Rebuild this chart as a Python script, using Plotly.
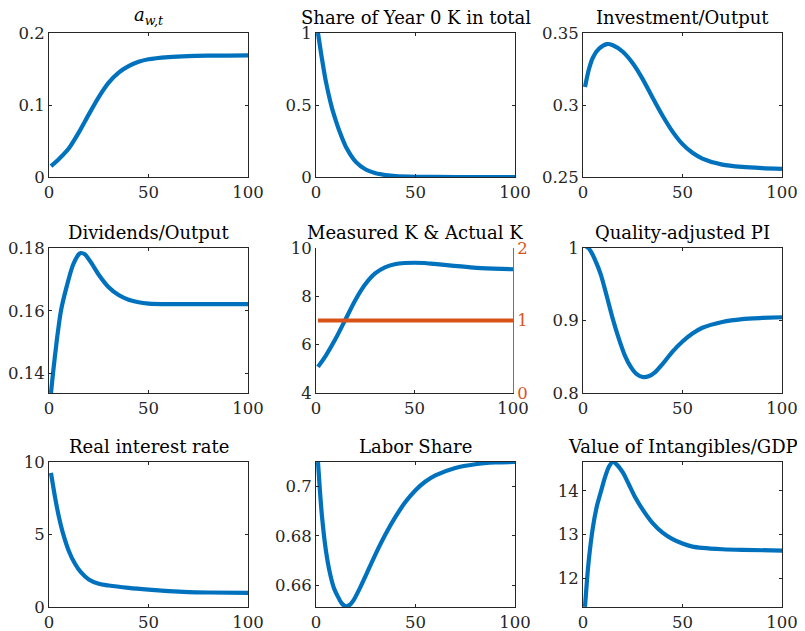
import plotly.graph_objects as go

# ---------------- data ----------------
aw_x = [1, 5, 10, 15, 20, 25, 30, 35, 40, 45, 50, 60, 70, 80, 90, 100]
aw_y = [0.015, 0.025, 0.040, 0.062, 0.087, 0.111, 0.131, 0.145, 0.154, 0.160, 0.1635, 0.1665, 0.168, 0.1685, 0.1687, 0.1688]

share_x = [1, 3, 5, 8, 10, 12, 15, 20, 25, 30, 35, 40, 50, 60, 80, 100]
share_y = [1.0, 0.82, 0.66, 0.48, 0.39, 0.31, 0.21, 0.105, 0.052, 0.026, 0.013, 0.006, 0.0015, 0.0004, 0.0, 0.0]

inv_x = [1, 3, 5, 8, 12, 15, 20, 25, 30, 35, 40, 45, 50, 55, 60, 70, 80, 90, 100]
inv_y = [0.3125, 0.325, 0.333, 0.339, 0.3423, 0.3415, 0.337, 0.329, 0.318, 0.305, 0.2925, 0.2815, 0.2728, 0.2668, 0.2628, 0.2586, 0.2570, 0.2562, 0.2557]

div_x = [1, 2, 4, 6, 9, 12, 15, 16, 18, 21, 25, 30, 35, 40, 45, 50, 60, 80, 100]
div_y = [0.1338, 0.1400, 0.1510, 0.1600, 0.1680, 0.1745, 0.1780, 0.1784, 0.1780, 0.1755, 0.1715, 0.1675, 0.1650, 0.1635, 0.1627, 0.1623, 0.1621, 0.1621, 0.1621]

mk_x = [1, 5, 10, 15, 20, 25, 30, 35, 40, 45, 50, 55, 60, 70, 80, 90, 100]
mk_y = [5.08, 5.55, 6.25, 7.05, 7.85, 8.50, 8.95, 9.20, 9.33, 9.38, 9.39, 9.38, 9.34, 9.26, 9.19, 9.15, 9.12]
ak_x = [1, 100]
ak_y = [1.0, 1.0]

pi_x = [1, 2, 4, 6, 9, 12, 15, 18, 21, 24, 27, 30, 33, 36, 40, 45, 50, 55, 60, 70, 80, 90, 100]
pi_y = [1.0, 1.002, 0.995, 0.984, 0.963, 0.933, 0.902, 0.875, 0.852, 0.836, 0.826, 0.822, 0.823, 0.828, 0.840, 0.857, 0.871, 0.882, 0.890, 0.898, 0.902, 0.9035, 0.9045]

r_x = [1, 3, 5, 7, 10, 13, 16, 20, 25, 30, 40, 50, 60, 70, 80, 100]
r_y = [9.25, 7.6, 6.2, 5.1, 3.85, 3.0, 2.4, 1.9, 1.6, 1.48, 1.32, 1.2, 1.1, 1.03, 1.0, 0.98]

ls_x = [1, 2, 3, 5, 7, 9, 11, 13, 15, 17, 19, 22, 25, 30, 35, 40, 45, 50, 55, 60, 70, 80, 90, 100]
ls_y = [0.7099, 0.698, 0.688, 0.674, 0.665, 0.659, 0.6555, 0.6527, 0.6516, 0.6522, 0.6542, 0.6588, 0.6640, 0.6728, 0.6808, 0.6878, 0.6938, 0.6985, 0.7020, 0.7045, 0.7075, 0.709, 0.7097, 0.7099]

vi_x = [1, 2, 3, 5, 7, 9, 11, 13, 15, 17, 20, 23, 26, 30, 35, 40, 45, 50, 55, 60, 70, 80, 100]
vi_y = [11.34, 11.95, 12.45, 13.17, 13.65, 13.98, 14.30, 14.55, 14.66, 14.60, 14.42, 14.15, 13.87, 13.57, 13.26, 13.04, 12.89, 12.79, 12.72, 12.69, 12.66, 12.645, 12.63]

titles = ["<i>a</i><sub><i>w,t</i></sub>", "Share of Year 0 K in total", "Investment/Output",
          "Dividends/Output", "Measured K & Actual K", "Quality-adjusted PI",
          "Real interest rate", "Labor Share", "Value of Intangibles/GDP"]

x_ticks = [0, 50, 100]
y_ranges = [[0, 0.2], [0, 1], [0.25, 0.35], [0.1338, 0.18], [4, 10], [0.8, 1.0],
            [0, 10], [0.6513, 0.7099], [11.336, 14.66]]
y_tickvals = [[0, 0.1, 0.2], [0, 0.5, 1], [0.25, 0.3, 0.35], [0.14, 0.16, 0.18], [4, 6, 8, 10],
              [0.8, 0.9, 1.0], [0, 5, 10], [0.66, 0.68, 0.70], [12, 13, 14]]
y_ticktext = [["0", "0.1", "0.2"], ["0", "0.5", "1"], ["0.25", "0.3", "0.35"], ["0.14", "0.16", "0.18"],
              ["4", "6", "8", "10"], ["0.8", "0.9", "1"], ["0", "5", "10"], ["0.66", "0.68", "0.7"],
              ["12", "13", "14"]]
y2_range = [0, 2]
y2_ticks = [0, 1, 2]

series = [(aw_x, aw_y), (share_x, share_y), (inv_x, inv_y), (div_x, div_y), (mk_x, mk_y),
          (pi_x, pi_y), (r_x, r_y), (ls_x, ls_y), (vi_x, vi_y)]

# ---------------- layout ----------------
# the page body has an 8px margin, so the figure is drawn 8px smaller and
# all target screen positions are shifted by that offset
OFF = 8
W, H = 805 - OFF, 631 - OFF
cols = [(49, 248), (316, 515), (583, 782)]     # screen pixels
rows = [(33, 177), (248, 393), (462, 607)]
BLUE = "#0072BD"
ORANGE = "#D95319"
AX = "#262626"
FONT = "DejaVu Serif"
TICK_SIZE = 16.5
TITLE_SIZE = 18


def fx(px):
    return (px - OFF) / W


def fy(py):
    return 1 - (py - OFF) / H


fig = go.Figure()
layout = dict(width=W, height=H, margin=dict(l=0, r=0, t=0, b=0, autoexpand=False),
              paper_bgcolor="white", plot_bgcolor="white", showlegend=False,
              font=dict(family=FONT, size=TICK_SIZE, color=AX))
annotations = []

for i, (sx, sy) in enumerate(series):
    r, c = divmod(i, 3)
    n = i + 1
    suf = "" if n == 1 else str(n)
    x0, x1 = cols[c]
    if n == 5:
        x1 = 513
    y0, y1 = rows[r]
    fig.add_trace(go.Scatter(x=sx, y=sy, mode="lines",
                             line=dict(color=BLUE, width=4.2, shape="spline", smoothing=0.7),
                             xaxis="x" + suf, yaxis="y" + suf, hoverinfo="skip"))
    mirror = False if n == 5 else "ticks"
    layout["xaxis" + suf] = dict(domain=[fx(x0), fx(x1)], anchor="y" + suf, range=[0, 100],
                                 tickvals=x_ticks, ticktext=[str(v) for v in x_ticks],
                                 ticks="inside", ticklen=3, tickwidth=1, tickcolor=AX,
                                 showline=True, linecolor=AX, linewidth=1, mirror=mirror,
                                 showgrid=False, zeroline=False, automargin=False,
                                 tickfont=dict(family=FONT, size=TICK_SIZE, color=AX))
    layout["yaxis" + suf] = dict(domain=[fy(y1), fy(y0)], anchor="x" + suf, range=y_ranges[i],
                                 tickvals=y_tickvals[i], ticktext=y_ticktext[i],
                                 ticks="inside", ticklen=3, tickwidth=1, tickcolor=AX,
                                 showline=True, linecolor=AX, linewidth=1, mirror=mirror,
                                 showgrid=False, zeroline=False, automargin=False,
                                 tickfont=dict(family=FONT, size=TICK_SIZE, color=AX))
    annotations.append(dict(text=titles[i], x=(fx(x0) + fx(x1)) / 2, y=fy(y0), xref="paper", yref="paper",
                            xanchor="center", yanchor="bottom", yshift=3, showarrow=False,
                            font=dict(family=FONT, size=TITLE_SIZE, color="#000000")))

# twin (right) axis for actual K in panel 5
fig.add_trace(go.Scatter(x=ak_x, y=ak_y, mode="lines", line=dict(color=ORANGE, width=4.2),
                         xaxis="x5", yaxis="y10", hoverinfo="skip"))
layout["yaxis10"] = dict(overlaying="y5", side="right", anchor="x5", range=y2_range,
                         tickvals=y2_ticks, ticktext=[str(v) for v in y2_ticks],
                         ticks="inside", ticklen=3, tickwidth=1, tickcolor=ORANGE,
                         showline=True, linecolor=ORANGE, linewidth=1,
                         showgrid=False, zeroline=False, automargin=False,
                         tickfont=dict(family=FONT, size=TICK_SIZE, color=ORANGE))

layout["annotations"] = annotations
fig.update_layout(**layout)
fig.write_html("out.html")
